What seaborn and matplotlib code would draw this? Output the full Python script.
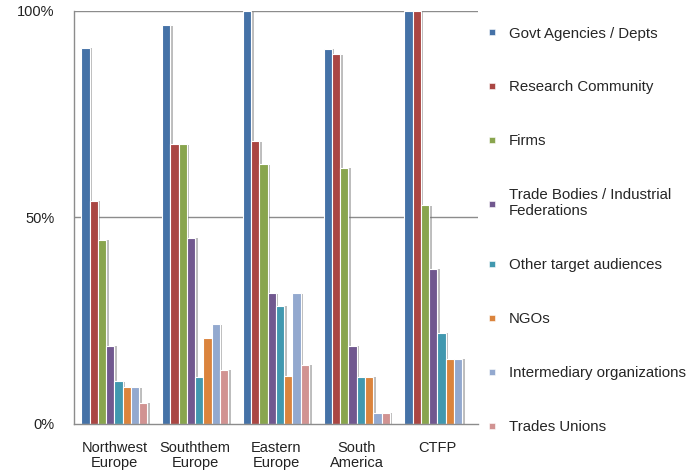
import numpy as np
import pandas as pd
import matplotlib
matplotlib.use("Agg")
import matplotlib.pyplot as plt
import matplotlib.patheffects as pe
from matplotlib.lines import Line2D
from matplotlib.ticker import FuncFormatter
import seaborn as sns

# Regions (x categories)
regions = ["Northwest\nEurope", "Souththem\nEurope", "Eastern\nEurope", "South\nAmerica", "CTFP"]

# Audience groups (series)
audiences = [
    "Govt Agencies / Depts",
    "Research Community",
    "Firms",
    "Trade Bodies / Industrial\nFederations",
    "Other target audiences",
    "NGOs",
    "Intermediary organizations",
    "Trades Unions",
]

# Share of respondents (%) per audience, one list per region order above
govt = [91.1, 96.6, 100.0, 90.9, 100.0]
research = [54.1, 67.7, 68.5, 89.6, 100.0]
firms = [44.6, 67.7, 62.9, 62.1, 53.0]
trade_bodies = [19.0, 45.1, 31.6, 19.0, 37.6]
other = [10.3, 11.4, 28.6, 11.4, 22.1]
ngos = [8.9, 20.9, 11.7, 11.4, 15.8]
intermediary = [8.9, 24.2, 31.6, 2.7, 15.8]
unions = [5.1, 13.1, 14.4, 2.7, np.nan]

series = [govt, research, firms, trade_bodies, other, ngos, intermediary, unions]

colors = ["#4572A7", "#AA4643", "#89A54E", "#71588F",
          "#4198AF", "#DB843D", "#93A9CF", "#D19392"]

rows = []
for aud, vals in zip(audiences, series):
    for reg, v in zip(regions, vals):
        rows.append({"Region": reg, "Audience": aud, "Share": v})
df = pd.DataFrame(rows)

sns.set_theme(style="white")
plt.rcParams["font.family"] = ["Liberation Sans", "DejaVu Sans"]

fig = plt.figure(figsize=(6.94, 4.72), dpi=100)
ax = fig.add_axes([0.1066, 0.1017, 0.582, 0.875])

sns.barplot(data=df, x="Region", y="Share", hue="Audience",
            order=regions, hue_order=audiences, palette=colors,
            width=0.82, legend=False, ax=ax,
            edgecolor="white", linewidth=0.8, saturation=1)

# soft grey drop shadow to the right of each bar
shadow = [pe.SimplePatchShadow(offset=(1.8, -0.4), shadow_rgbFace="#6e6e6e", alpha=0.45),
          pe.Normal()]
for p in ax.patches:
    p.set_path_effects(shadow)

ax.set_ylim(0, 100)
ax.set_xlim(-0.5, 4.5)
ax.set_yticks([0, 50, 100])
ax.yaxis.set_major_formatter(FuncFormatter(lambda v, _: f"{v:.0f}%"))
ax.set_xlabel("")
ax.set_ylabel("")
ax.tick_params(axis="both", length=0, labelsize=10.5, colors="#222222")
ax.tick_params(axis="y", pad=14)
ax.tick_params(axis="x", pad=12)
for lbl in ax.get_xticklabels():
    lbl.set_linespacing(1.15)

for y in (50, 100):
    ax.axhline(y, color="#8c8c8c", lw=1.0, zorder=0.5)
for side in ("top", "right"):
    ax.spines[side].set_visible(False)
for side in ("left", "bottom"):
    ax.spines[side].set_color("#8c8c8c")
    ax.spines[side].set_linewidth(1.0)

handles = [Line2D([0], [0], marker="s", linestyle="none", markersize=4.5,
                  markerfacecolor=c, markeredgecolor="white", markeredgewidth=0.4)
           for c in colors]
fig.legend(handles, audiences, loc="upper left",
           bbox_to_anchor=(0.702, 0.9437), frameon=False, fontsize=10.8,
           handlelength=0.7, handletextpad=0.75, labelspacing=2.66,
           borderaxespad=0, borderpad=0)

fig.savefig("out.png", dpi=100)
